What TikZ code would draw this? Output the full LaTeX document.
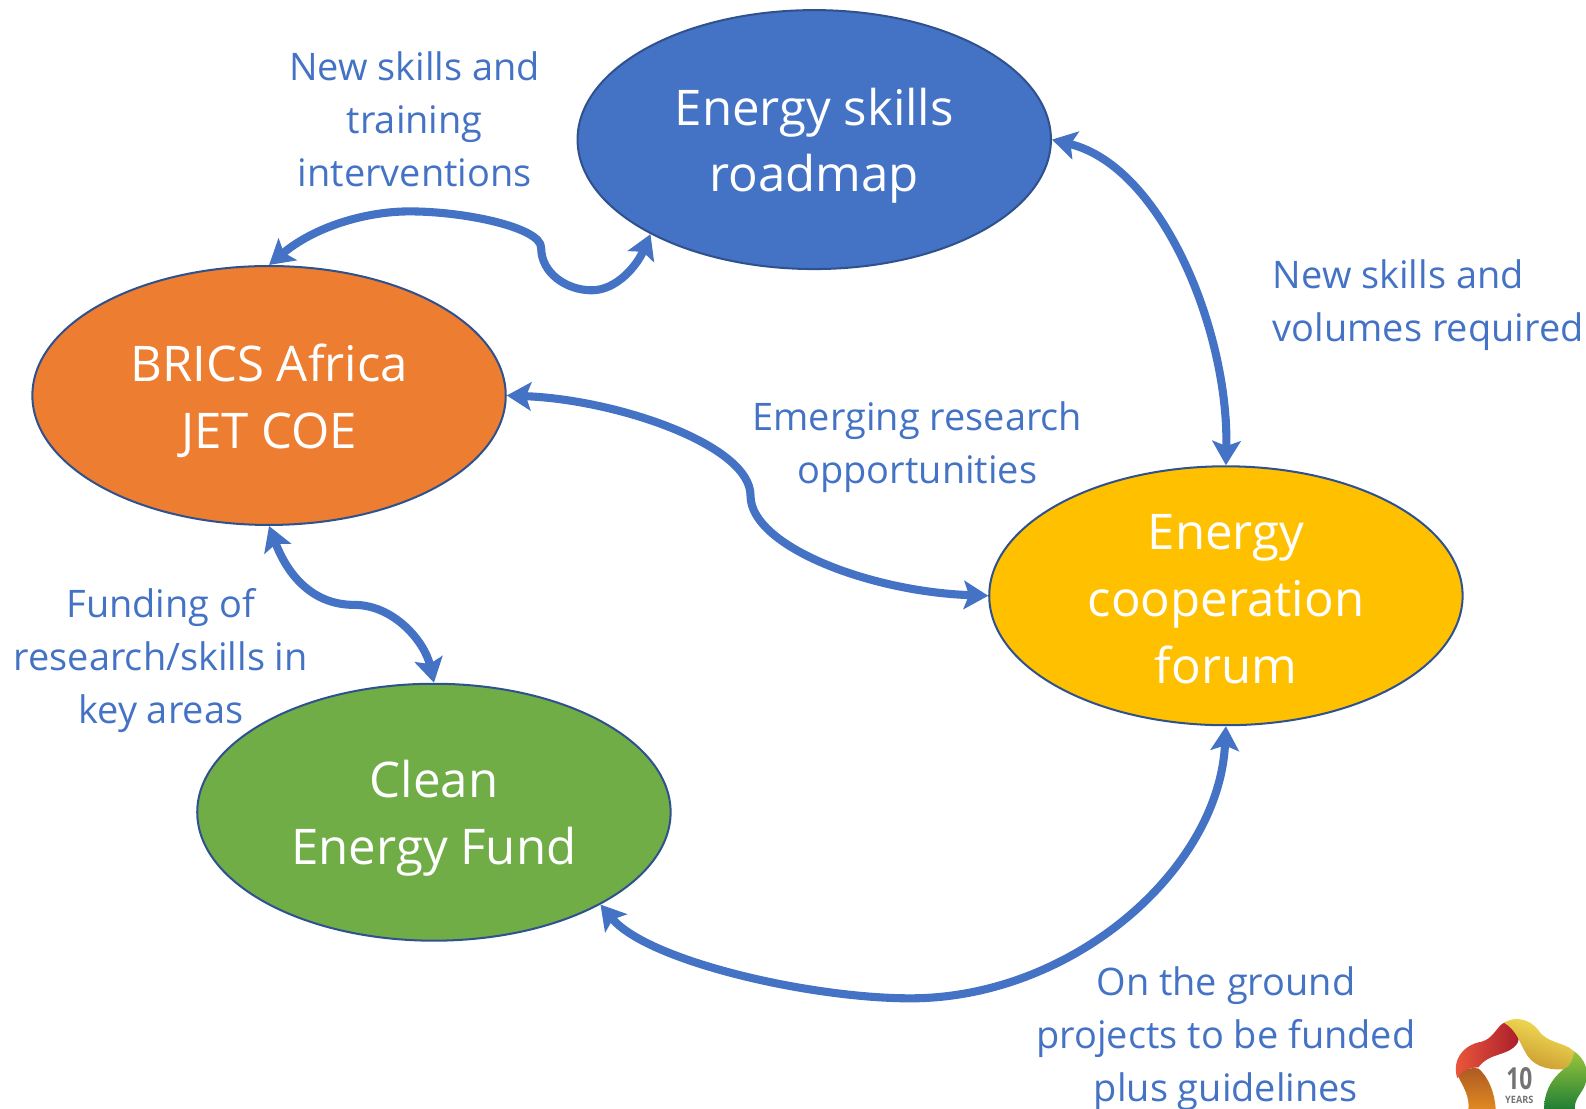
\documentclass[tikz,border=0pt]{standalone}
\usepackage{fontspec}
\setmainfont{Open Sans}
\usetikzlibrary{shapes.geometric,arrows.meta}
\definecolor{cblue}{HTML}{4472C4}
\definecolor{cedge}{HTML}{2F528F}
\definecolor{corange}{HTML}{ED7D31}
\definecolor{cyellow}{HTML}{FFC000}
\definecolor{cgreen}{HTML}{70AD47}
\definecolor{logored}{HTML}{EE5A3C}
\definecolor{logodred}{HTML}{A81C2A}
\definecolor{logoyel}{HTML}{F6E65A}
\definecolor{logotan}{HTML}{C8962E}
\definecolor{logobrown}{HTML}{AD5A22}
\definecolor{logoorg}{HTML}{E08A22}
\definecolor{logolgreen}{HTML}{9CC63C}
\definecolor{logodgreen}{HTML}{1E7E34}
\newcommand{\hubdrop}[1]{\rule{0pt}{#1pt}}
\tikzset{
  x=1pt,y=-1pt,
  hub/.style={ellipse,draw=cedge,line width=2pt,minimum width=468pt,minimum height=256pt,inner sep=0pt,text=white,align=center,font=\fontsize{48.6}{66}\selectfont},
  lbl/.style={text=cblue,align=center,inner sep=0pt,font=\fontsize{37.5}{52.3}\selectfont},
  conn/.style={draw=cblue,line width=8pt,{Stealth[length=24pt,width=28pt,inset=5pt]}-{Stealth[length=24pt,width=28pt,inset=5pt]}},
}
\begin{document}
\begin{tikzpicture}
\useasboundingbox (0,0) rectangle (1568,1096.4);
\node[hub,fill=cblue] (roadmap) at (805,138) {\hubdrop{49}Energy skills\\roadmap};
\node[hub,fill=corange] (brics) at (266,391) {\hubdrop{47}BRICS Africa\\JET COE};
\node[hub,fill=cyellow] (forum) at (1212,589) {\hubdrop{41}Energy\\cooperation\\forum};
\node[hub,fill=cgreen,minimum height=254pt] (fund) at (429,803) {\hubdrop{49}Clean\\Energy Fund};
\node[lbl] (l1) at (410,118) {New skills and\\training\\interventions};
\node[lbl,align=left] (l2) at (1412,302) {New skills and\\volumes required};
\node[lbl] (l3) at (907,442) {Emerging research\\opportunities};
\node[lbl] (l4) at (159,653) {Funding of\\research/skills in\\key areas};
\node[lbl] (l5) at (1212,1027) {On the ground\\projects to be funded\\plus guidelines};
\path[conn] (brics.north) .. controls (310,225) and (360,209) .. (405,209) .. controls (460,209) and (535,225) .. (535,245) .. controls (535,270) and (560,287) .. (585,287) .. controls (610,287) and (630,262) .. (roadmap.210);
\path[conn] (roadmap.east) .. controls (1150,165) and (1215,330) .. (forum.north);
\path[conn] (brics.east) .. controls (610,395) and (742,440) .. (742,490) .. controls (742,540) and (860,585) .. (forum.west);
\path[conn] (brics.south) .. controls (285,570) and (310,598) .. (350,598) .. controls (390,598) and (420,635) .. (fund.north);
\path[conn] (fund.-29) .. controls (640,950) and (800,987) .. (900,987) .. controls (1060,987) and (1205,860) .. (forum.south);
\begin{scope}
\clip (1400,960) rectangle (1568,1096.4);
\begin{scope}[shift={(1384.1,968.9)},scale=0.3296]
\shade[top color=logobrown,bottom color=logoorg]
  (172,285) .. controls (190,265) and (215,262) .. (235,265) .. controls (265,290) and (285,340) .. (287,390) -- (205,390) .. controls (210,350) and (190,320) .. (172,285) -- cycle;
\shade[left color=logored,right color=logodred]
  (312,128) .. controls (345,135) and (365,165) .. (352,190) .. controls (325,230) and (270,215) .. (235,262) .. controls (205,262) and (180,275) .. (172,295) .. controls (155,245) and (185,195) .. (245,185) .. controls (280,175) and (290,140) .. (312,128) -- cycle;
\shade[left color=logoyel,right color=logotan,shading angle=-20]
  (312,128) .. controls (340,110) and (385,112) .. (415,150) .. controls (440,190) and (490,185) .. (520,212) .. controls (522,240) and (505,262) .. (490,268) .. controls (435,270) and (395,255) .. (375,215) .. controls (360,190) and (350,150) .. (312,128) -- cycle;
\shade[top color=logolgreen,bottom color=logodgreen]
  (520,212) .. controls (555,235) and (570,275) .. (555,315) .. controls (545,340) and (520,360) .. (525,390) -- (432,390) .. controls (432,340) and (450,300) .. (490,268) .. controls (505,262) and (522,240) .. (520,212) -- cycle;
\end{scope}
\end{scope}
\node[text=black!55,inner sep=0pt,font=\fontsize{30}{30}\selectfont\bfseries,xscale=.75] (ten) at (1502,1066) {10};
\node[text=black!55,inner sep=0pt,font=\fontsize{10}{10}\selectfont\bfseries,xscale=.9] (years) at (1502,1087) {YEARS};
\end{tikzpicture}
\end{document}
